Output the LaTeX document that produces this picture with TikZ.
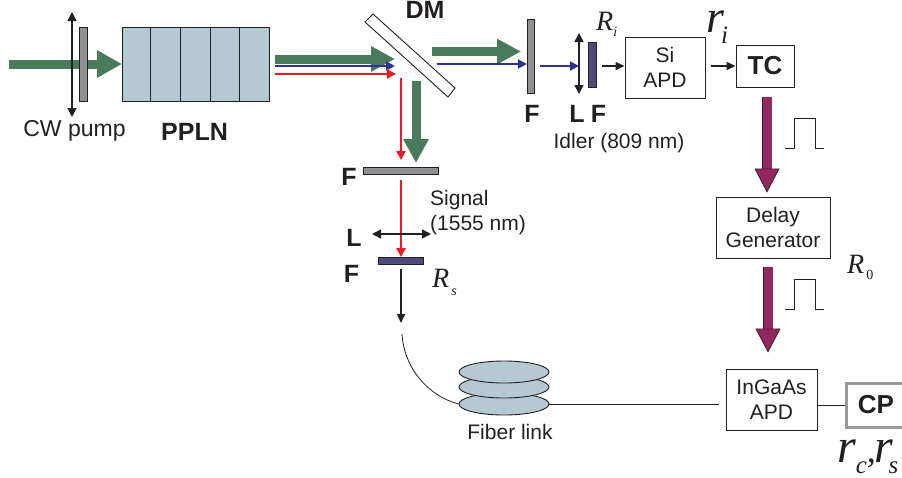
\documentclass[tikz,border=0pt]{standalone}
\usepackage{fontspec}
\setmainfont{Liberation Sans}
\newfontfamily\symserif{Liberation Serif}
\usetikzlibrary{arrows.meta,shapes.geometric}
\definecolor{pumpgreen}{HTML}{4A7A5C}
\definecolor{pulsepurple}{HTML}{92285F}
\definecolor{crystalblue}{HTML}{B5C9D3}
\definecolor{filtergray}{HTML}{8E9094}
\definecolor{filterdark}{HTML}{4F4A7C}
\definecolor{idlerblue}{HTML}{2E3192}
\definecolor{signalred}{HTML}{ED1C24}
\definecolor{inkdark}{HTML}{231F20}
% R_i, r_c and the like: size, letter, subscript size, drop, subscript
\newcommand{\rsym}[5]{{\symserif\itshape\fontsize{#1}{#1}\selectfont #2\raisebox{-#4pt}{\fontsize{#3}{#3}\selectfont #5}}}
\tikzset{
	x=1pt,y=-1pt,
	every node/.style={text=inkdark,inner sep=0pt,align=center,font=\fontsize{21}{25.5}\selectfont},
	tag/.style={font=\fontsize{25}{28}\selectfont\bfseries},
	boxtag/.style={font=\fontsize{26}{28}\selectfont\bfseries},
	box/.style={draw=inkdark,line width=1pt,fill=white},
	plate/.style={draw=inkdark,line width=.8pt,fill=filtergray},
	darkplate/.style={draw=inkdark,line width=.6pt,fill=filterdark},
	coil/.style={ellipse,draw=inkdark,line width=.9pt,fill=crystalblue,minimum width=90pt,minimum height=22pt},
	pumpbeam/.style={pumpgreen,line width=9pt,-{Triangle[length=24pt,width=24pt]}},
	redbeam/.style={signalred,line width=1.9pt,-{Triangle[length=9pt,width=9pt]}},
	bluebeam/.style={idlerblue,line width=1.9pt,-{Triangle[length=9pt,width=9pt]}},
	blackbeam/.style={inkdark,line width=1.5pt,-{Triangle[length=9pt,width=8pt]}},
	lens/.style={inkdark,line width=1.5pt,{Triangle[length=9pt,width=9pt]}-{Triangle[length=9pt,width=9pt]}},
	trigger/.style={draw=inkdark,line width=.7pt,double=pulsepurple,double distance=9pt,-{Triangle[length=24pt,width=25pt,fill=pulsepurple,line width=.7pt]}},
	pulseline/.style={inkdark,line width=1pt},
}
\begin{document}
\begin{tikzpicture}
	\useasboundingbox (0,0) rectangle (902,477);
	% pump and crystal
	\draw[pumpbeam,-{Triangle[length=25pt,width=26pt]}] (9,64) -- (122,64);
	\filldraw[plate] (79,27) rectangle (87,101);
	\draw[lens] (72,12) -- (72,117);
	\filldraw[draw=inkdark,line width=1pt,fill=crystalblue] (122,27) rectangle (269,101);
	\foreach \x in {150,180,210,239}
	{
		\draw[inkdark,line width=1pt] (\x,27) -- (\x,101);
	}
	\node[font=\fontsize{23}{26}\selectfont] at (74.5,131) {CW pump};
	\node[tag] at (194.5,132) {PPLN};
	% dichroic mirror
	\draw[pumpbeam] (275,59) -- (395,59);
	\draw[bluebeam] (275,66) -- (395,66);
	\draw[redbeam] (275,74) -- (396,74);
	\draw[inkdark,line width=.9pt] (365,22) -- (373,14) -- (455,88) -- (448,97) -- cycle;
	\node[tag] at (425,9.5) {DM};
	% signal arm
	\draw[pumpbeam] (416,81) -- (416,163);
	\draw[redbeam] (401,78) -- (401,160);
	\filldraw[plate] (363,167) rectangle (438,174);
	\node[tag] at (349,177) {F};
	\draw[redbeam] (401,180) -- (401,257);
	\draw[lens] (372,234) -- (431,234);
	\filldraw[darkplate] (378,257) rectangle (423,264);
	\node[anchor=west] at (430,200) {Signal};
	\node[anchor=west] at (430,225) {(1555 nm)};
	\node[tag] at (354,238) {L};
	\node[tag] at (351.5,274) {F};
	\node[anchor=base west] at (432,287) {\rsym{28}{R}{14}{8}{\kern2pt s}};
	\draw[blackbeam] (401,269) -- (401,323);
	% fiber
	\coordinate (fiberend) at (402,334);
	\node[coil] (coilc) at (504,404) {};
	\node[coil] (coilb) at (504,387) {};
	\node[coil] (coila) at (504,372) {};
	\draw[inkdark,line width=.8pt] (fiberend) .. controls (404,368) and (428,396) .. (coilc.west);
	\node at (510,432) {Fiber link};
	% idler arm
	\draw[pumpbeam] (432,51.5) -- (521,51.5);
	\draw[bluebeam] (437,64) -- (527,64);
	\filldraw[plate] (527,19) rectangle (534,93);
	\draw[bluebeam] (540,66) -- (579,66);
	\draw[lens] (579,33) -- (579,94);
	\filldraw[darkplate] (588,42) rectangle (596,87);
	\node[tag] at (532,114) {F};
	\node[tag] at (577,114) {L};
	\node[tag] at (598.5,114) {F};
	\node at (619,143) {Idler (809 nm)};
	\node[anchor=base west] at (596,30) {\rsym{28}{R}{14}{6}{i}};
	\node[anchor=base west] at (706,32) {\rsym{46}{r}{25}{11}{\kern-3pt i}};
	% detectors and electronics
	\node[box,minimum width=80pt,minimum height=61pt] (siapd) at (665,67.5) {Si\\APD};
	\node[box,boxtag,minimum width=58pt,minimum height=42pt] (tc) at (765,66) {TC};
	\node[box,minimum width=114pt,minimum height=61pt] (delay) at (773,227.5) {Delay\\Generator};
	\node[box,minimum width=91pt,minimum height=61pt] (ingaas) at (771.5,399.5) {InGaAs\\APD};
	\node[draw=gray!80,boxtag,line width=3pt,minimum width=60pt,minimum height=44pt] (cp) at (876,405) {CP};
	\coordinate (apdin) at (602,66);
	\draw[blackbeam] (apdin) -- (apdin -| siapd.west);
	\draw[blackbeam,shorten <=5pt] (siapd.east |- tc.west) -- (tc.west);
	\draw[inkdark,line width=.8pt,shorten >=7pt] (coilc.east) -- (coilc.east -| ingaas.west);
	\draw[inkdark,line width=.8pt] (ingaas.east |- cp.west) -- (cp.west);
	\draw[trigger,shorten <=9pt,shorten >=4pt] ([xshift=2pt]tc.south) -- ([xshift=-6pt]delay.north);
	\draw[trigger,shorten <=8pt,shorten >=16pt] ([xshift=-5pt]delay.south) -- ([xshift=-3.5pt]ingaas.north);
	% pulses
	\foreach \y in {148,309}
	{
		\draw[pulseline] (785,\y) -- (794,\y) -- (794,\y-30) -- (815,\y-30) -- (815,\y) -- (824,\y);
	}
	\node[anchor=base west] at (847,273) {\rsym{28}{R}{14}{6}{\kern2pt\upshape 0}};
	\node[anchor=base west] at (837,462) {\rsym{48}{r}{25}{11}{c}{\symserif\itshape\fontsize{36}{36}\selectfont,}\kern-1pt\rsym{48}{r}{25}{11}{\kern-5pt s}};
\end{tikzpicture}
\end{document}
